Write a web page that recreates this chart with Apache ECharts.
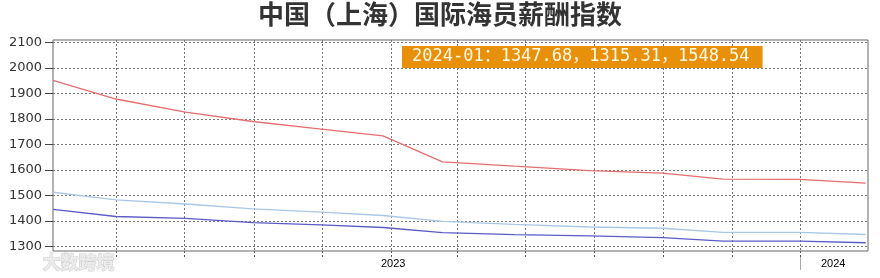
<!DOCTYPE html>
<html>
<head>
<meta charset="utf-8">
<script src="https://cdn.jsdelivr.net/npm/echarts@6/dist/echarts.min.js"></script>
<style>
  html, body { margin: 0; padding: 0; background: #fff; }
  #chart { width: 880px; height: 278px; }
</style>
</head>
<body>
<div id="chart"></div>
<script>
// 数据：发布时间点 + 三条指数线
const dates = [
  '2022-03-06', '2022-05-01', '2022-07-02', '2022-08-31', '2022-10-31', '2022-12-25',
  '2023-02-16', '2023-04-21', '2023-06-27', '2023-08-31', '2023-10-24', '2023-12-31', '2024-02-28'
];
const lightBlue = [1513, 1483, 1467, 1448, 1435, 1422, 1399, 1387, 1377, 1372, 1356, 1356, 1347.68];
const darkBlue = [1446, 1418, 1411, 1394, 1385, 1375, 1355, 1347, 1342, 1335, 1322, 1322, 1315.31];
const redLine = [1951, 1878, 1827, 1790, 1760, 1734, 1632, 1615, 1598, 1588, 1564, 1563, 1548.54];
const lastLabel = '2024-01';

// 坐标轴刻度
const yTicks = [1300, 1400, 1500, 1600, 1700, 1800, 1900, 2000, 2100];
const gridDates = [
  '2022-05-01', '2022-07-01', '2022-09-01', '2022-11-01', '2023-01-01', '2023-03-01',
  '2023-05-01', '2023-07-01', '2023-09-01', '2023-11-01', '2024-01-01'
];
const yearLabelDates = ['2023-01-03', '2024-01-30'];
const yearLabels = ['2023', '2024'];
const yearMarkDates = ['2024-01-01'];

// 日期 -> 天数（用数值轴代替时间轴）
const day = d => Math.round(Date.parse(d + 'T00:00:00Z') / 86400000);
const xMin = day('2022-03-06');
const xMax = day('2024-03-01');
const labelMap = {};
yearLabelDates.forEach((d, i) => { labelMap[day(d)] = yearLabels[i]; });

const chart = echarts.init(document.getElementById('chart'));

const mkSeries = (name, values, color) => ({
  name,
  type: 'line',
  data: dates.map((d, i) => [day(d), values[i]]),
  showSymbol: false,
  lineStyle: { width: 1.3, color },
  itemStyle: { color },
  silent: true
});

const n = lightBlue.length - 1;
const boxText = `${lastLabel}：${lightBlue[n].toFixed(2)}，${darkBlue[n].toFixed(2)}，${redLine[n].toFixed(2)}`;

chart.setOption({
  animation: false,
  title: [
    {
      text: '中国（上海）国际海员薪酬指数',
      left: 'center',
      top: 1,
      padding: 0,
      textStyle: { fontSize: 26, fontWeight: 'bold', color: '#333', fontFamily: 'Noto Sans CJK SC' }
    },
    {
      text: boxText,
      left: 402,
      top: 46,
      padding: [2, 13, 2, 10],
      backgroundColor: '#E8900A',
      textStyle: { fontSize: 17, fontWeight: 'normal', color: '#FFFBE6', fontFamily: '"DejaVu Sans Mono", "Noto Sans CJK SC"', lineHeight: 18 }
    }
  ],
  grid: {
    left: 53, right: 12, top: 40, bottom: 27,
    show: true, borderColor: '#666', borderWidth: 1, backgroundColor: '#fff'
  },
  xAxis: [
    {
      type: 'value', min: xMin, max: xMax,
      axisLine: { show: false },
      axisLabel: { show: false },
      axisTick: { customValues: gridDates.map(day), length: 6, lineStyle: { color: '#555', type: [2, 2] } },
      splitLine: { show: true, lineStyle: { color: '#777', type: [2, 2] } }
    },
    {
      type: 'value', min: xMin, max: xMax, position: 'bottom',
      axisLine: { show: false }, axisTick: { show: false }, splitLine: { show: false },
      axisLabel: {
        customValues: yearLabelDates.map(day),
        formatter: v => labelMap[v] || '',
        fontSize: 11, color: '#000', fontFamily: 'Liberation Sans', margin: 7
      }
    },
    {
      type: 'value', min: xMin, max: xMax, position: 'bottom', offset: 6,
      axisLine: { show: false }, axisLabel: { show: false }, splitLine: { show: false },
      axisTick: { customValues: yearMarkDates.map(day), length: 13, lineStyle: { color: '#aaa' } }
    }
  ],
  yAxis: {
    type: 'value', min: 1283, max: 2109,
    axisLine: { show: false },
    axisTick: { customValues: yTicks, length: 8, lineStyle: { color: '#444' } },
    axisLabel: {
      customValues: yTicks, formatter: v => String(v),
      fontSize: 13, color: '#333', fontFamily: 'DejaVu Sans', margin: 11
    },
    splitLine: { show: true, lineStyle: { color: '#777', type: [2, 2] } }
  },
  series: [
    mkSeries('指数一', lightBlue, '#A9C8E6'),
    mkSeries('指数二', darkBlue, '#5B5BC8'),
    mkSeries('指数三', redLine, '#E46E6E')
  ],
  graphic: [
    {
      type: 'text', left: 42, top: 253,
      style: { text: '大数跨境', fontSize: 18, fontWeight: 'bold', fontFamily: 'Noto Sans CJK SC', fill: '#ececec', stroke: '#cccccc', lineWidth: 1 }
    }
  ]
});
</script>
</body>
</html>
